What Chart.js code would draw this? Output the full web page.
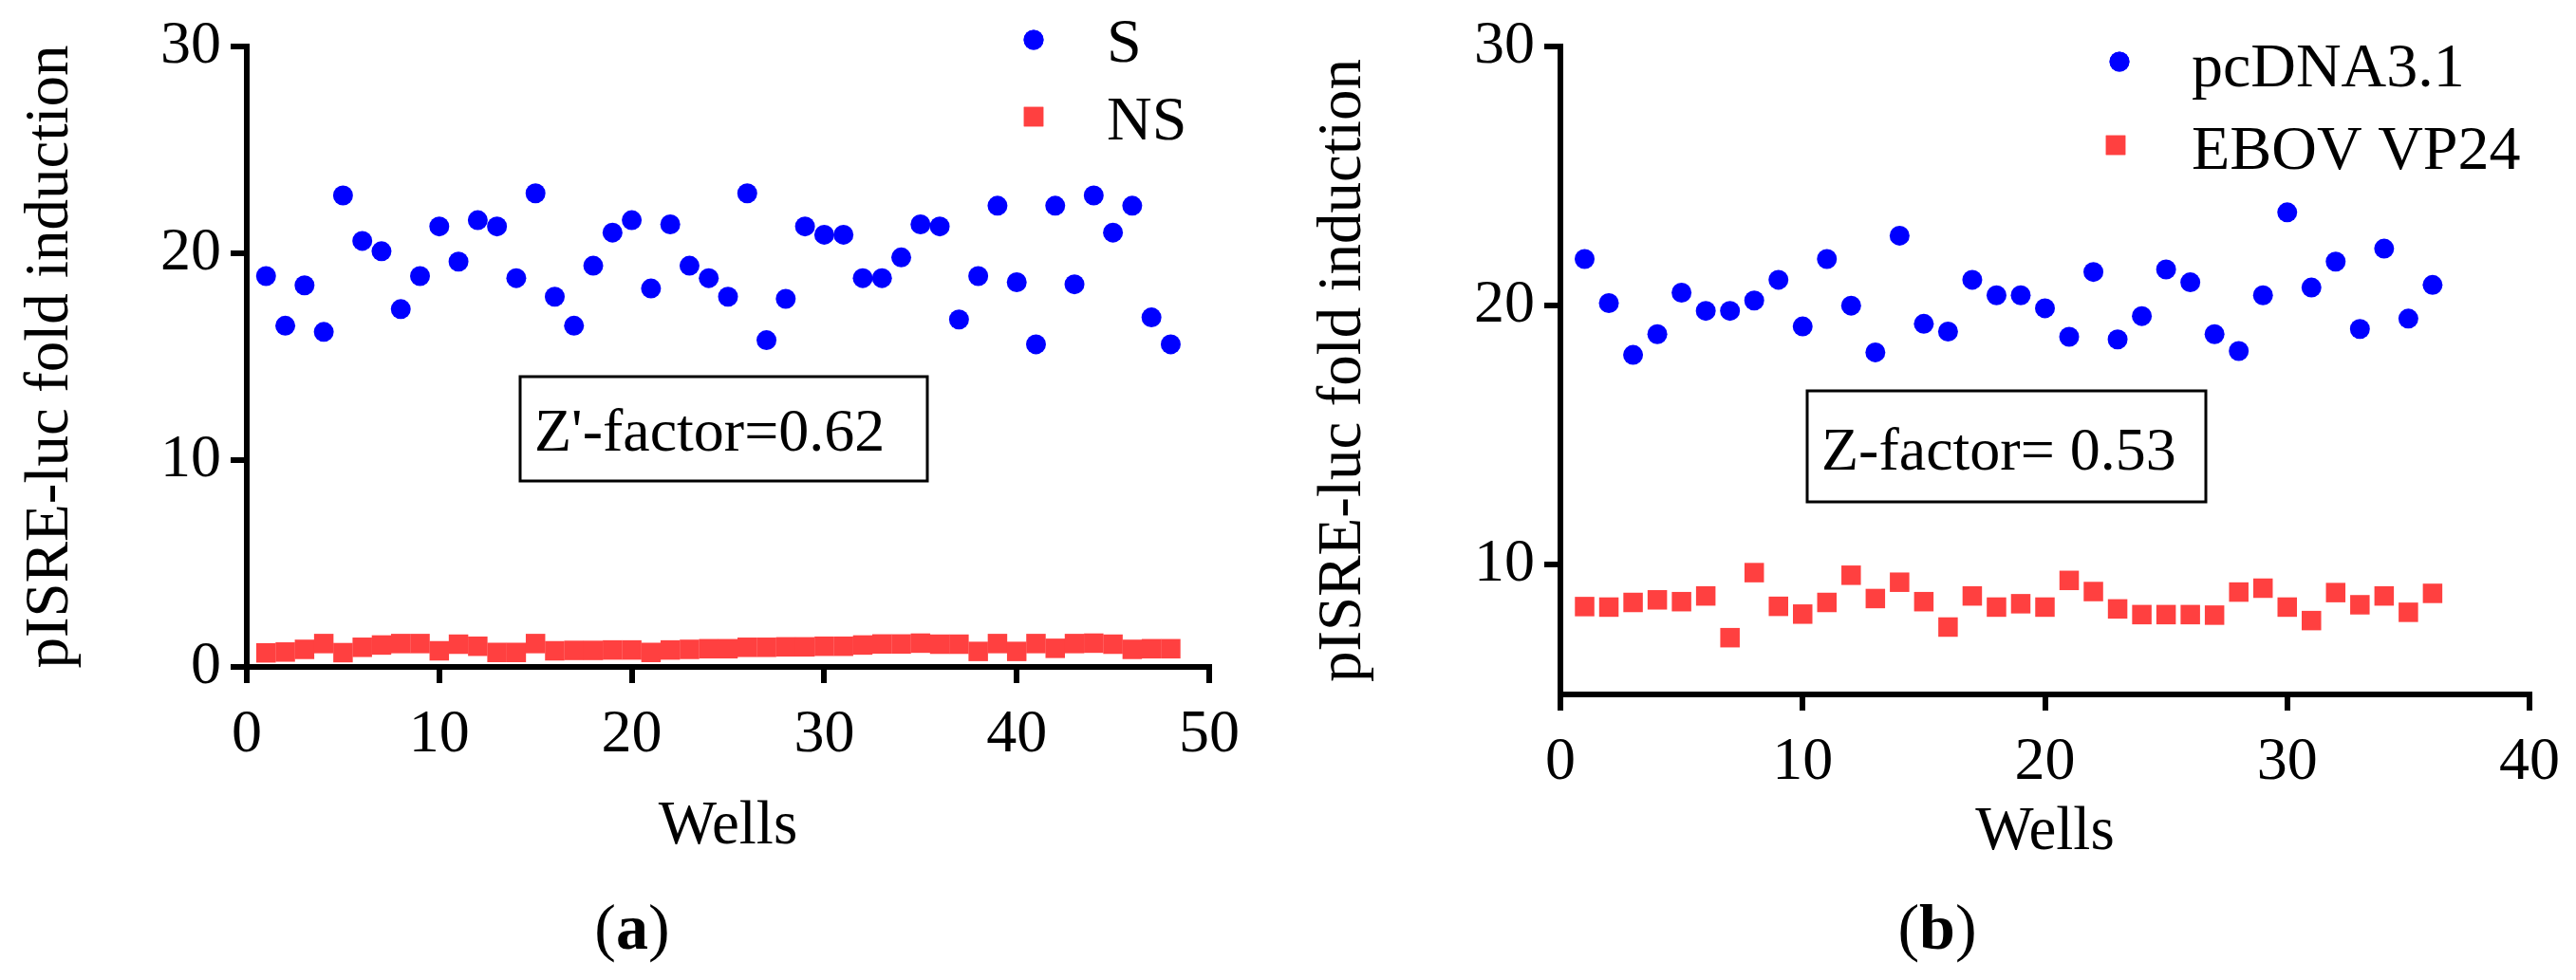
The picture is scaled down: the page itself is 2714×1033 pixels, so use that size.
<!DOCTYPE html>
<html>
<head>
<meta charset="utf-8">
<title>pISRE-luc fold induction</title>
<script src="https://cdn.jsdelivr.net/npm/chart.js@4.4.0/dist/chart.umd.min.js"></script>
<style>
    html, body { margin: 0; padding: 0; background: #fff; }
    #wrap { position: relative; width: 2714px; height: 1033px; }
    canvas { position: absolute; top: 0; }
    #panelA { left: 0; }
    #panelB { left: 1357px; }
    .warm { position: absolute; left: -9999px; font-family: 'Liberation Serif'; font-size: 64px; }
</style>
</head>
<body>
<div id="wrap">
    <canvas id="panelA" width="1357" height="1033"></canvas>
    <canvas id="panelB" width="1357" height="1033"></canvas>
</div>
<span class="warm">0123 Wells <b>ab</b></span>
<script>
// Panel (a): S vs NS, 48 wells
const wellsA = [1, 2, 3, 4, 5, 6, 7, 8, 9, 10, 11, 12, 13, 14, 15, 16, 17, 18, 19, 20, 21, 22, 23, 24,
                25, 26, 27, 28, 29, 30, 31, 32, 33, 34, 35, 36, 37, 38, 39, 40, 41, 42, 43, 44, 45, 46, 47, 48];
const sValues = [18.9, 16.5, 18.45, 16.2, 22.8, 20.6, 20.1, 17.3, 18.9, 21.3, 19.6, 21.6,
                 21.3, 18.8, 22.9, 17.9, 16.5, 19.4, 21.0, 21.6, 18.3, 21.4, 19.4, 18.8,
                 17.9, 22.9, 15.8, 17.8, 21.3, 20.9, 20.9, 18.8, 18.8, 19.8, 21.4, 21.3,
                 16.8, 18.9, 22.3, 18.6, 15.6, 22.3, 18.5, 22.8, 21.0, 22.3, 16.9, 15.6];
const nsValues = [0.68, 0.72, 0.85, 1.13, 0.69, 0.95, 1.06, 1.13, 1.13, 0.78, 1.1, 1.0,
                  0.7, 0.7, 1.13, 0.78, 0.8, 0.8, 0.82, 0.82, 0.7, 0.82, 0.85, 0.88,
                  0.88, 0.95, 0.95, 0.97, 0.97, 1.0, 1.0, 1.06, 1.11, 1.11, 1.15, 1.1,
                  1.1, 0.75, 1.13, 0.75, 1.13, 0.9, 1.13, 1.15, 1.1, 0.85, 0.88, 0.88];
const xTicksA = [0, 10, 20, 30, 40, 50];
const yTicksA = [0, 10, 20, 30];

// Panel (b): pcDNA3.1 vs EBOV VP24, 36 wells
const wellsB = [1, 2, 3, 4, 5, 6, 7, 8, 9, 10, 11, 12, 13, 14, 15, 16, 17, 18,
                19, 20, 21, 22, 23, 24, 25, 26, 27, 28, 29, 30, 31, 32, 33, 34, 35, 36];
const pcValues = [21.8, 20.1, 18.1, 18.9, 20.5, 19.8, 19.8, 20.2, 21.0, 19.2, 21.8, 20.0,
                  18.2, 22.7, 19.3, 19.0, 21.0, 20.4, 20.4, 19.9, 18.8, 21.3, 18.7, 19.6,
                  21.4, 20.9, 18.9, 18.25, 20.4, 23.6, 20.7, 21.7, 19.1, 22.2, 19.5, 20.8];
const vpValues = [8.39, 8.37, 8.55, 8.65, 8.58, 8.8, 7.19, 9.7, 8.4, 8.1, 8.55, 9.6,
                  8.7, 9.33, 8.58, 7.6, 8.8, 8.37, 8.5, 8.37, 9.4, 8.97, 8.3, 8.08,
                  8.08, 8.08, 8.06, 8.95, 9.1, 8.37, 7.85, 8.93, 8.46, 8.8, 8.17, 8.9];
const xTicksB = [0, 10, 20, 30, 40];
const yTicksB = [10, 20, 30];

const BLUE = '#0000ff';
const RED = '#ff4040';
const SERIF = '"Liberation Serif", serif';

Chart.defaults.font.family = SERIF;
Chart.defaults.color = '#000';

function toPoints(xs, ys) {
    return xs.map((x, i) => ({ x: x, y: ys[i] }));
}

// draws the in-plot legend, the Z-factor box and the panel letter
const panelDecor = {
    id: 'panelDecor',
    afterDraw(chart, args, opts) {
        const ctx = chart.ctx;
        ctx.save();
        ctx.fillStyle = '#000';
        ctx.textAlign = 'left';
        ctx.textBaseline = 'alphabetic';

        // legend
        ctx.font = opts.legendFont + 'px ' + SERIF;
        opts.legend.forEach((item, i) => {
            const ds = chart.data.datasets[i];
            ctx.fillStyle = ds.backgroundColor;
            Chart.helpers.drawPoint(ctx, { pointStyle: ds.pointStyle, radius: ds.pointRadius, rotation: 0 }, item.mx, item.my);
            ctx.fill();
            ctx.fillStyle = '#000';
            ctx.fillText(ds.label, item.tx, item.ty);
        });

        // Z-factor box
        const b = opts.box;
        ctx.lineWidth = 3;
        ctx.strokeStyle = '#000';
        ctx.strokeRect(b.x, b.y, b.w, b.h);
        ctx.font = opts.boxFont + 'px ' + SERIF;
        ctx.fillText(b.text, b.tx, b.ty);

        // panel letter, "a"/"b" in bold
        const p = opts.letter;
        ctx.font = p.size + 'px ' + SERIF;
        const open = ctx.measureText('(').width;
        const close = ctx.measureText(')').width;
        ctx.font = 'bold ' + p.size + 'px ' + SERIF;
        const mid = ctx.measureText(p.text).width;
        const x = p.cx - (open + mid + close) / 2;
        ctx.font = p.size + 'px ' + SERIF;
        ctx.fillText('(', x, p.y);
        ctx.font = 'bold ' + p.size + 'px ' + SERIF;
        ctx.fillText(p.text, x + open, p.y);
        ctx.font = p.size + 'px ' + SERIF;
        ctx.fillText(')', x + open + mid, p.y);
        ctx.restore();
    }
};

function axis(opts) {
    return {
        type: 'linear',
        min: opts.min,
        max: opts.max,
        afterBuildTicks: scale => { scale.ticks = opts.ticks.map(v => ({ value: v })); },
        afterFit: scale => {
            if (opts.width) scale.width = opts.width;
            if (opts.height) scale.height = opts.height;
        },
        grid: { display: true, drawOnChartArea: false, drawTicks: true, tickLength: 17, lineWidth: 6, tickWidth: 6, tickColor: '#000' },
        border: { display: true, color: '#000', width: 6 },
        ticks: { font: { size: 64, family: SERIF }, padding: opts.tickPad, color: '#000', maxRotation: 0, autoSkip: false },
        title: { display: true, text: opts.title, color: '#000', font: { size: 65, family: SERIF }, padding: opts.titlePad }
    };
}

function makePanel(id, cfg) {
    return new Chart(document.getElementById(id), {
        type: 'scatter',
        data: {
            datasets: [
                { label: cfg.names[0], data: cfg.pos, pointStyle: 'circle', pointRadius: 10.5,
                  backgroundColor: BLUE, borderWidth: 0, clip: false },
                { label: cfg.names[1], data: cfg.neg, pointStyle: 'rect', pointRadius: 14.5,
                  backgroundColor: RED, borderWidth: 0, clip: false }
            ]
        },
        options: {
            responsive: false,
            animation: false,
            devicePixelRatio: 1,
            layout: { padding: { top: 49, right: cfg.right, left: 0, bottom: 0 } },
            plugins: {
                legend: { display: false },
                tooltip: { enabled: false },
                panelDecor: cfg.decor
            },
            scales: { x: cfg.x, y: cfg.y }
        },
        plugins: [panelDecor]
    });
}

function drawAll() {
    makePanel('panelA', {
        names: ['S', 'NS'],
        pos: toPoints(wellsA, sValues),
        neg: toPoints(wellsA, nsValues),
        right: 83,
        x: axis({ min: 0, max: 50, ticks: xTicksA, height: 330, tickPad: 17, title: 'Wells', titlePad: { bottom: 122 } }),
        y: axis({ min: 0, max: 30, ticks: yTicksA, width: 260, tickPad: 10, title: 'pISRE-luc fold induction', titlePad: { top: 15 } }),
        decor: {
            legendFont: 66,
            legend: [
                { mx: 1089, my: 42, tx: 1166, ty: 65 },
                { mx: 1089, my: 123, tx: 1166, ty: 147 }
            ],
            boxFont: 64,
            box: { x: 548, y: 397, w: 429, h: 110, text: "Z'-factor=0.62", tx: 563, ty: 475 },
            letter: { text: 'a', cx: 666, y: 1000, size: 68 }
        }
    });

    makePanel('panelB', {
        names: ['pcDNA3.1', 'EBOV VP24'],
        pos: toPoints(wellsB, pcValues),
        neg: toPoints(wellsB, vpValues),
        right: 48,
        x: axis({ min: 0, max: 40, ticks: xTicksB, height: 301, tickPad: 17, title: 'Wells', titlePad: { bottom: 116 } }),
        y: axis({ min: 5, max: 30, ticks: yTicksB, width: 287, tickPad: 10, title: 'pISRE-luc fold induction', titlePad: { top: 20 } }),
        decor: {
            legendFont: 66,
            legend: [
                { mx: 876, my: 65, tx: 952, ty: 91 },
                { mx: 872, my: 153, tx: 952, ty: 178 }
            ],
            boxFont: 64,
            box: { x: 547, y: 412, w: 420, h: 117, text: 'Z-factor= 0.53', tx: 562, ty: 495 },
            letter: { text: 'b', cx: 684, y: 1000, size: 68 }
        }
    });
}

// make sure the serif face is ready before the canvases draw text
Promise.all([
    document.fonts.load('64px "Liberation Serif"'),
    document.fonts.load('bold 68px "Liberation Serif"')
]).then(drawAll, drawAll);
</script>
</body>
</html>
